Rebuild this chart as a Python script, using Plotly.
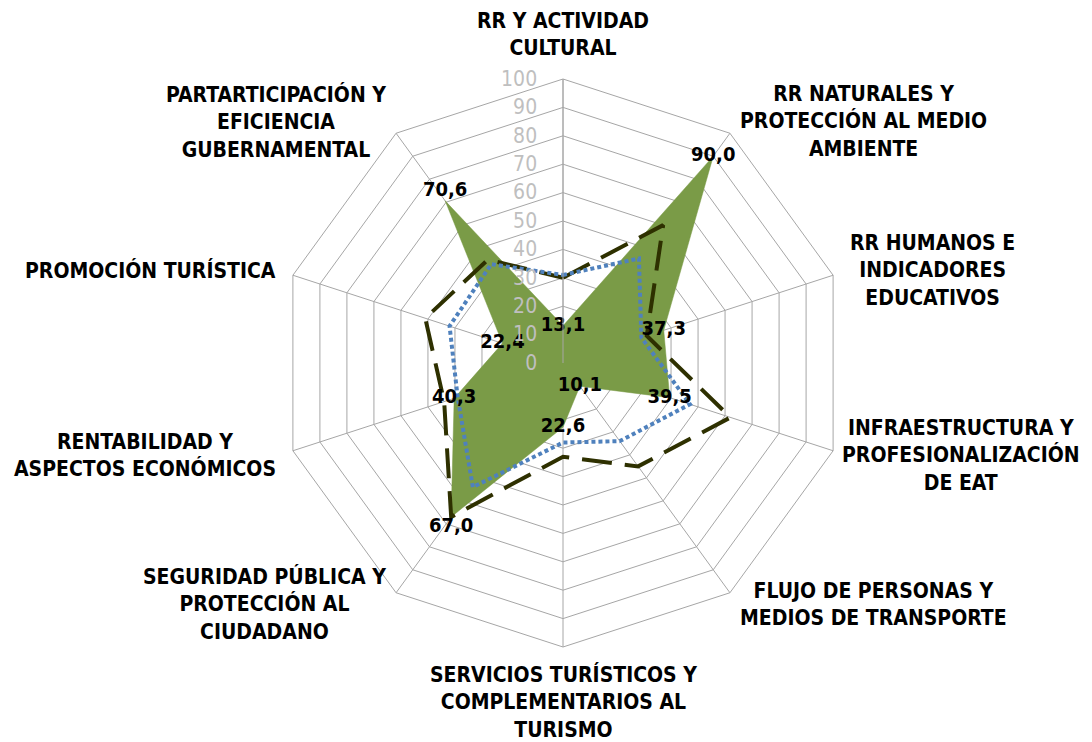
import math
import plotly.graph_objects as go

# --- data ---
CATEGORY_LINES = [
    ["RR Y ACTIVIDAD", "CULTURAL"],
    ["RR NATURALES Y", "PROTECCIÓN AL MEDIO", "AMBIENTE"],
    ["RR HUMANOS E", "INDICADORES", "EDUCATIVOS"],
    ["INFRAESTRUCTURA Y", "PROFESIONALIZACIÓN", "DE EAT"],
    ["FLUJO DE PERSONAS Y", "MEDIOS DE TRANSPORTE"],
    ["SERVICIOS TURÍSTICOS Y", "COMPLEMENTARIOS AL", "TURISMO"],
    ["SEGURIDAD PÚBLICA Y", "PROTECCIÓN AL", "CIUDADANO"],
    ["RENTABILIDAD Y", "ASPECTOS ECONÓMICOS"],
    ["PROMOCIÓN TURÍSTICA"],
    ["PARTARTICIPACIÓN Y", "EFICIENCIA", "GUBERNAMENTAL"],
]
categories = ["<br>".join(c) for c in CATEGORY_LINES]

green_vals = [13.1, 90.0, 37.3, 39.5, 10.1, 22.6, 67.0, 40.3, 22.4, 70.6]
dashed_vals = [30, 60, 31, 62, 45, 33, 67, 44, 51, 45]
dotted_vals = [31, 45.5, 29, 47, 34, 28, 54, 39, 42, 43]

radial_ticks = list(range(0, 101, 10))

# --- style / layout settings ---
label_pos = ["middle center", "middle center", "middle center", "middle center",
             "middle center", "middle center", "bottom center", "middle center",
             "middle center", "top center"]
label_nudge_x = [0, 0, 0, -8, 0, 0, 0, 0, 0, 0]  # extra px for category labels

FONT = "DejaVu Sans Condensed, DejaVu Sans, sans-serif"
GRID = "#a6a6a6"
W, H = 1092, 742
CX, CY, R = 555, 355, 284      # polar centre / radius in figure px
PAD_Y, PAD_TOP, PAD_BOTTOM = 14, 17, 13


def closed(vals):
    return vals + vals[:1]


theta_closed = closed(categories)

fig = go.Figure()

fig.add_trace(go.Scatterpolar(
    r=closed(green_vals), theta=theta_closed, mode="lines",
    fill="toself", fillcolor="#7a9b47",
    line=dict(color="#7a9b47", width=0.5),
    hoverinfo="skip", showlegend=False,
))
fig.add_trace(go.Scatterpolar(
    r=closed(dashed_vals), theta=theta_closed, mode="lines",
    line=dict(color="#2e3000", width=4, dash="30px,13px"),
    hoverinfo="skip", showlegend=False,
))
fig.add_trace(go.Scatterpolar(
    r=closed(dotted_vals), theta=theta_closed, mode="lines",
    line=dict(color="#4f81bd", width=4, dash="4px,3px"),
    hoverinfo="skip", showlegend=False,
))
fig.add_trace(go.Scatterpolar(
    r=green_vals, theta=categories, mode="text",
    text=[f"{v:.1f}".replace(".", ",") for v in green_vals],
    textposition=label_pos,
    textfont=dict(family=FONT, size=20, color="black", weight="bold"),
    hoverinfo="skip", showlegend=False,
))

# category labels, centred text blocks placed just outside each polygon vertex
annotations = []
n = len(categories)
for i, txt in enumerate(categories):
    a = math.radians(360 * i / n)
    s, c = math.sin(a), math.cos(a)
    vx, vy = CX + R * s, CY - R * c
    if abs(s) < 1e-6:
        x, y = vx, vy - PAD_TOP if c > 0 else vy + PAD_BOTTOM
        xanchor, yanchor = "center", ("bottom" if c > 0 else "top")
    else:
        pad_x = 20 * abs(s) - 4
        x = vx + (pad_x if s > 0 else -pad_x) + label_nudge_x[i]
        y = vy - c * PAD_Y
        xanchor, yanchor = ("left" if s > 0 else "right"), "middle"
    annotations.append(dict(
        text=txt, x=x / W, y=1 - y / H, xref="paper", yref="paper",
        xanchor=xanchor, yanchor=yanchor, align="center", showarrow=False,
        font=dict(family=FONT, size=21, color="black", weight="bold"),
    ))

fig.update_layout(
    width=W, height=H,
    margin=dict(l=0, r=0, t=0, b=0),
    paper_bgcolor="white",
    plot_bgcolor="white",
    showlegend=False,
    annotations=annotations,
    polar=dict(
        domain=dict(x=[(CX - R) / W, (CX + R) / W],
                    y=[1 - (CY + R) / H, 1 - (CY - R) / H]),
        bgcolor="white",
        gridshape="linear",
        angularaxis=dict(
            direction="clockwise", rotation=90,
            categoryorder="array", categoryarray=categories,
            showline=True, linecolor=GRID, linewidth=1,
            showgrid=True, gridcolor=GRID, gridwidth=1,
            ticks="", showticklabels=False,
        ),
        radialaxis=dict(
            range=[0, 100], tickvals=radial_ticks, angle=90, tickangle=90,
            side="counterclockwise",
            showline=True, linecolor=GRID, linewidth=1,
            showgrid=True, gridcolor=GRID, gridwidth=1,
            ticks="outside", ticklen=18, tickcolor="rgba(0,0,0,0)",
            tickfont=dict(family=FONT, size=21, color="#bfbfbf"),
        ),
    ),
)

fig.write_html("out.html")
